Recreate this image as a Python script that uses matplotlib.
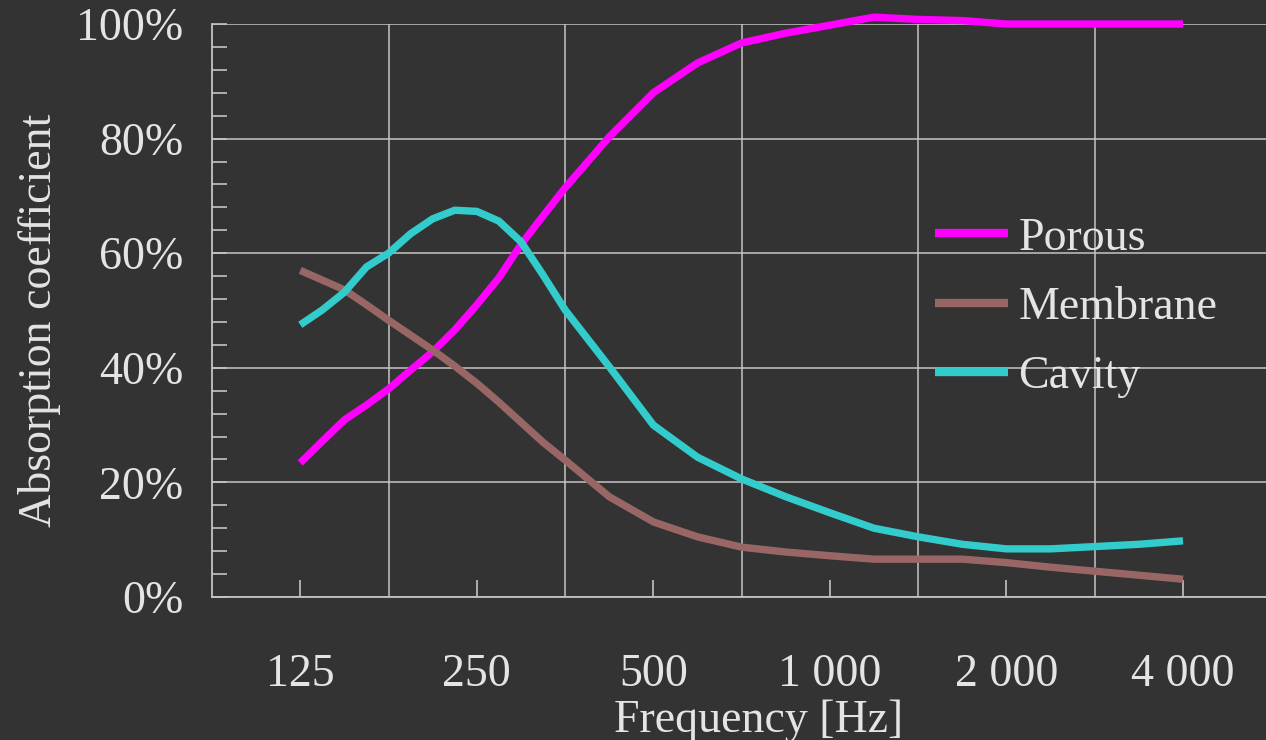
import numpy as np
import matplotlib
matplotlib.use("Agg")
import matplotlib.pyplot as plt
from matplotlib.ticker import FixedLocator, FuncFormatter, MultipleLocator, NullFormatter

# Sample frequencies: eighth-octave steps up to ~355 Hz, quarter-octave above
freqs = [125 * 2 ** (k / 8) for k in range(13)] + [125 * 2 ** (k / 4) for k in range(7, 21)]

porous = [23.4, 27.2, 30.9, 33.5, 36.3, 39.6, 42.8, 46.6, 51.0, 55.7, 61.5, 66.5, 71.4,
          80.3, 88.0, 93.2, 96.7, 98.4, 99.8, 101.2, 100.8, 100.6, 100.0, 100.0,
          100.0, 100.0, 100.0]
membrane = [57.0, 55.3, 53.6, 51.0, 48.3, 45.7, 43.1, 40.3, 37.3, 34.0, 30.5, 27.0, 23.9,
            17.5, 13.1, 10.5, 8.7, 7.85, 7.2, 6.6, 6.6, 6.6, 6.0, 5.2, 4.5, 3.8, 3.1]
cavity = [47.5, 50.1, 53.2, 57.6, 60.0, 63.4, 66.0, 67.5, 67.3, 65.6, 62.0, 56.2, 50.1,
          40.2, 30.0, 24.4, 20.6, 17.5, 14.7, 12.0, 10.5, 9.2, 8.4, 8.4, 8.8, 9.2, 9.8]

series_names = ["Porous", "Membrane", "Cavity"]
series_colors = ["#ff00ff", "#996666", "#33cccc"]

band_centres = [125, 250, 500, 1000, 2000, 4000]
band_labels = ["125", "250", "500", "1 000", "2 000", "4 000"]

BG = "#333333"
FG = "#e4e4e4"
GRID = "#c4c4c4"
FS = 33

plt.rcParams["font.family"] = ["Liberation Serif", "DejaVu Serif"]

fig = plt.figure(figsize=(12.66, 7.40), dpi=100, facecolor=BG)
ax = fig.add_axes([212 / 1266, 1 - 597 / 740, 1 - 212 / 1266, (597 - 24) / 740])
ax.set_facecolor(BG)

for vals, name, col in zip([porous, membrane, cavity], series_names, series_colors):
    ax.plot(freqs, np.array(vals) / 100, color=col, lw=5.3, label=name,
            solid_capstyle="butt", solid_joinstyle="round", zorder=3, clip_on=False)

ax.set_xscale("log", base=2)
ax.set_xlim(125 / np.sqrt(2), 4000 * 2 ** 0.47)
ax.set_ylim(0, 1)


def band_label(v, pos):
    v = int(round(v))
    return band_labels[band_centres.index(v)] if v in band_centres else ""


# x: labelled band centres, grid on the band edges
ax.xaxis.set_major_locator(FixedLocator(band_centres))
ax.xaxis.set_major_formatter(FuncFormatter(band_label))
edges = [125 * np.sqrt(2) * 2 ** k for k in range(5)]
ax.xaxis.set_minor_locator(FixedLocator(edges))
ax.xaxis.set_minor_formatter(NullFormatter())
ax.tick_params(axis="x", which="major", direction="in", length=12, width=1.2,
               color=GRID, labelsize=FS, labelcolor=FG, pad=41)
ax.tick_params(axis="x", which="minor", length=0)
ax.grid(True, axis="x", which="minor", color=GRID, lw=1.1)

# y: percent scale, grid every 20 %, small ticks every 4 %
ax.yaxis.set_major_locator(MultipleLocator(0.2))
ax.yaxis.set_minor_locator(MultipleLocator(0.04))
ax.yaxis.set_major_formatter(FuncFormatter(lambda v, p: f"{v * 100:.0f}%"))
ax.tick_params(axis="y", which="both", direction="in", length=11, width=1.2,
               color=GRID, labelsize=FS, labelcolor=FG, pad=20.5)
ax.grid(True, axis="y", which="major", color=GRID, lw=1.1)

for side in ["top", "right"]:
    ax.spines[side].set_visible(False)
for side in ["left", "bottom"]:
    ax.spines[side].set_color(GRID)
    ax.spines[side].set_linewidth(1.3)
ax.set_axisbelow(True)

ax.set_xlabel("Frequency [Hz]", fontsize=FS, color=FG)
ax.xaxis.set_label_coords((759 - 212) / (1266 - 212), -(732 - 597) / (597 - 24))
ax.xaxis.label.set_va("baseline")
ax.set_ylabel("Absorption coefficient", fontsize=FS, color=FG)
ax.yaxis.set_label_coords(-(212 - 18) / (1266 - 212), (597 - 320) / (597 - 24))
ax.yaxis.label.set_va("top")

leg = ax.legend(loc="upper left", bbox_to_anchor=((935 - 212) / (1266 - 212), (597 - 217) / (597 - 24)),
                frameon=False, fontsize=FS, labelcolor=FG, handlelength=1.6,
                handletextpad=0.22, labelspacing=0.58, borderaxespad=0, borderpad=0)
for h in leg.get_lines():
    h.set_linewidth(6)

fig.savefig("out.png", dpi=100, facecolor=BG)
